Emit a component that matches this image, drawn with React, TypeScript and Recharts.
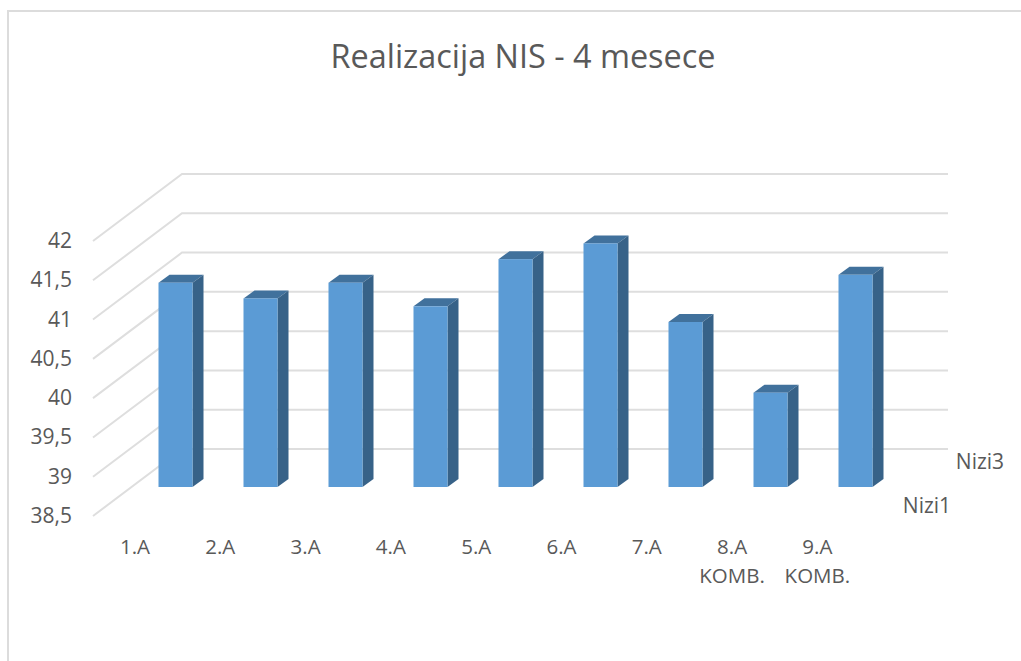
import { Bar, BarChart, CartesianGrid, XAxis, YAxis } from "recharts";

const categories = ["1.A", "2.A", "3.A", "4.A", "5.A", "6.A", "7.A", "8.A KOMB.", "9.A KOMB."];
const nizi1 = [41.1, 40.9, 41.1, 40.8, 41.4, 41.6, 40.6, 39.7, 41.2];
const valueTicks = [38.5, 39, 39.5, 40, 40.5, 41, 41.5, 42];
const seriesLabels = ["Nizi1", "Nizi3"];

const data = categories.map((name, i) => ({ name, value: nizi1[i] }));

const FONT = "'Open Sans', sans-serif";
const TEXT = "#595959";
const WALL = "#DEDEDE";

function WallLine(props: any) {
  const { y1 } = props;
  return (
    <polyline
      points={`93,${y1 + 29} 182,${y1 - 38} 948,${y1 - 38}`}
      fill="none"
      stroke={WALL}
      strokeWidth={2}
    />
  );
}

function Box3D(props: any) {
  const { x, y, width, height } = props;
  const dx = 11;
  const dy = -8;
  const r = x + width;
  const b = y + height;
  return (
    <g>
      <polygon points={`${x},${y} ${x + dx},${y + dy} ${r + dx},${y + dy} ${r},${y}`} fill="#41719C" />
      <polygon points={`${r},${y} ${r + dx},${y + dy} ${r + dx},${b + dy} ${r},${b}`} fill="#376288" />
      <rect x={x} y={y} width={width} height={height} fill="#5B9BD5" />
    </g>
  );
}

function ValueTick(props: any) {
  const { y, payload } = props;
  return (
    <text x={72} y={y + 36} textAnchor="end" fontFamily={FONT} fontSize={21} fill={TEXT}>
      {String(payload.value).replace(".", ",")}
    </text>
  );
}

function CategoryTick(props: any) {
  const { x, payload, index } = props;
  const [first, second] = String(payload.value).split(" ");
  // labels sit left of the bars, on the front edge of the floor
  const labelX = x - 40 + index * 0.3;
  return (
    <g fontFamily={FONT} fill={TEXT} textAnchor="middle">
      <text x={labelX} y={554} fontSize={20.5}>{first}</text>
      {second && <text x={labelX} y={583} fontSize={20.5}>{second}</text>}
    </g>
  );
}

export default function App() {
  return (
    <div style={{ position: "absolute", left: 0, top: 0, width: 1021, height: 661, background: "#fff", overflow: "hidden" }}>
      <div style={{ position: "absolute", left: 7, top: 10, width: 1014, height: 651, borderLeft: "2px solid #DCDCDC", borderTop: "2px solid #DCDCDC" }} />
      <div style={{ position: "absolute", left: 0, top: 0 }}>
        <BarChart
          width={1021}
          height={661}
          data={data}
          margin={{ top: 212, right: 123.5, bottom: 173, left: 131.5 }}
        >
          <CartesianGrid horizontal={WallLine} vertical={false} />
          <XAxis dataKey="name" height={1} interval={0} axisLine={false} tickLine={false} tick={CategoryTick} />
          <YAxis width={1} type="number" domain={[38.5, 42]} ticks={valueTicks} interval={0} axisLine={false} tickLine={false} tick={ValueTick} />
          <Bar dataKey="value" barSize={34} shape={Box3D} isAnimationActive={false} />
          <text x={523} y={68} textAnchor="middle" fontFamily={FONT} fontSize={32.4} fill={TEXT}>
            Realizacija NIS - 4 mesece
          </text>
          <text x={927} y={513} textAnchor="middle" fontFamily={FONT} fontSize={21} fill={TEXT}>{seriesLabels[0]}</text>
          <text x={980} y={469} textAnchor="middle" fontFamily={FONT} fontSize={21} fill={TEXT}>{seriesLabels[1]}</text>
        </BarChart>
      </div>
    </div>
  );
}
